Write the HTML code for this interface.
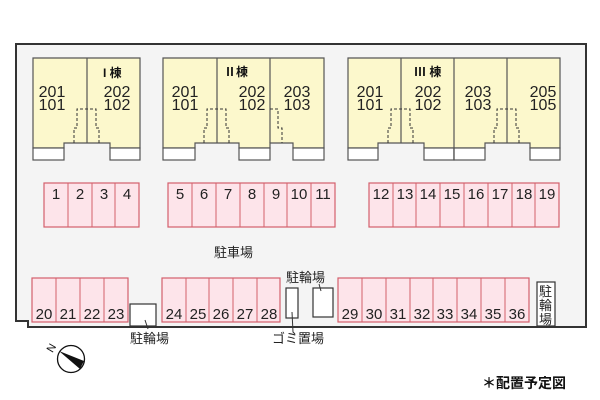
<!DOCTYPE html>
<html><head><meta charset="utf-8"><style>
html,body{margin:0;padding:0;background:#fff;width:600px;height:400px;overflow:hidden}
text{font-family:"Liberation Sans","Noto Sans CJK JP",sans-serif}
</style></head><body>
<svg width="600" height="400" viewBox="0 0 600 400" xmlns="http://www.w3.org/2000/svg">
<path d="M16,44 H586 V327 H28 V321 H16 Z" fill="#f4f4f4" stroke="#333" stroke-width="2"/>
<g fill="#fcf8cc" stroke="#555" stroke-width="1.2">
<path d="M33,58 H140 V148 H110 V143 H64 V148 H33 Z"/>
<path d="M163,58 H324 V148 H293 V143 H270 V148 H239 V143 H195 V148 H163 Z"/>
<path d="M348,58 H560 V148 H530 V143 H485 V148 H454 V148 H424 V143 H378 V148 H348 Z"/>
</g>
<g fill="#fff" stroke="#555" stroke-width="1.2">
<rect x="33" y="148" width="31" height="12"/><rect x="110" y="148" width="30" height="12"/>
<rect x="163" y="148" width="32" height="12"/><rect x="239" y="148" width="31" height="12"/><rect x="293" y="148" width="31" height="12"/>
<rect x="348" y="148" width="30" height="12"/><rect x="424" y="148" width="30" height="12"/><rect x="454" y="148" width="31" height="12"/><rect x="530" y="148" width="30" height="12"/>
</g>
<g stroke="#555" stroke-width="1.2">
<line x1="87" y1="58" x2="87" y2="143"/>
<line x1="217" y1="58" x2="217" y2="143"/><line x1="270" y1="58" x2="270" y2="143"/>
<line x1="401" y1="58" x2="401" y2="143"/><line x1="454" y1="58" x2="454" y2="160"/><line x1="507" y1="58" x2="507" y2="143"/>
</g>
<g fill="none" stroke="#333" stroke-width="1" stroke-dasharray="3,2">
<path d="M74,143 V128 H77 V109 H96 V128 H99 V143"/>
<path d="M204,143 V128 H207 V109 H226 V128 H229 V143"/>
<path d="M270,109 H278 V128 H282 V143"/>
<path d="M388,143 V128 H391 V109 H410 V128 H413 V143"/>
<path d="M494,143 V128 H497 V109 H516 V128 H519 V143"/>
</g>
<g font-size="16" fill="#222" text-anchor="middle">
<text x="52" y="97">201</text><text x="52" y="110">101</text>
<text x="117" y="97">202</text><text x="117" y="110">102</text>
<text x="185" y="97">201</text><text x="185" y="110">101</text>
<text x="252" y="97">202</text><text x="252" y="110">102</text>
<text x="297" y="97">203</text><text x="297" y="110">103</text>
<text x="370" y="97">201</text><text x="370" y="110">101</text>
<text x="428" y="97">202</text><text x="428" y="110">102</text>
<text x="478" y="97">203</text><text x="478" y="110">103</text>
<text x="543" y="97">205</text><text x="543" y="110">105</text>
</g>
<g font-size="12" font-weight="bold" fill="#111">
<text x="103" y="77">I 棟</text><text x="224" y="76">Ⅱ棟</text><text x="414" y="76">Ⅲ 棟</text>
</g>
<g fill="#fde4ea" stroke="#d45f6b" stroke-width="1.2">
<rect x="44" y="183" width="95" height="44"/><rect x="168" y="183" width="167" height="44"/><rect x="369" y="183" width="190" height="44"/>
<rect x="32" y="278" width="96" height="44"/><rect x="162" y="278" width="118" height="44"/><rect x="338" y="278" width="191" height="44"/>
</g>
<g stroke="#d45f6b" stroke-width="1">
<line x1="68" y1="183" x2="68" y2="227"/><line x1="92" y1="183" x2="92" y2="227"/><line x1="115" y1="183" x2="115" y2="227"/>
<line x1="192" y1="183" x2="192" y2="227"/><line x1="216" y1="183" x2="216" y2="227"/><line x1="240" y1="183" x2="240" y2="227"/><line x1="264" y1="183" x2="264" y2="227"/><line x1="287" y1="183" x2="287" y2="227"/><line x1="311" y1="183" x2="311" y2="227"/>
<line x1="393" y1="183" x2="393" y2="227"/><line x1="416" y1="183" x2="416" y2="227"/><line x1="440" y1="183" x2="440" y2="227"/><line x1="464" y1="183" x2="464" y2="227"/><line x1="488" y1="183" x2="488" y2="227"/><line x1="512" y1="183" x2="512" y2="227"/><line x1="535" y1="183" x2="535" y2="227"/>
<line x1="56" y1="278" x2="56" y2="322"/><line x1="80" y1="278" x2="80" y2="322"/><line x1="104" y1="278" x2="104" y2="322"/>
<line x1="186" y1="278" x2="186" y2="322"/><line x1="209" y1="278" x2="209" y2="322"/><line x1="233" y1="278" x2="233" y2="322"/><line x1="257" y1="278" x2="257" y2="322"/>
<line x1="362" y1="278" x2="362" y2="322"/><line x1="386" y1="278" x2="386" y2="322"/><line x1="410" y1="278" x2="410" y2="322"/><line x1="433" y1="278" x2="433" y2="322"/><line x1="457" y1="278" x2="457" y2="322"/><line x1="481" y1="278" x2="481" y2="322"/><line x1="505" y1="278" x2="505" y2="322"/>
</g>
<g font-size="15" fill="#222" text-anchor="middle">
<text x="56" y="199">1</text><text x="80" y="199">2</text><text x="104" y="199">3</text><text x="127" y="199">4</text>
<text x="180" y="199">5</text><text x="204" y="199">6</text><text x="228" y="199">7</text><text x="252" y="199">8</text><text x="276" y="199">9</text><text x="299" y="199">10</text><text x="323" y="199">11</text>
<text x="381" y="199">12</text><text x="405" y="199">13</text><text x="428" y="199">14</text><text x="452" y="199">15</text><text x="476" y="199">16</text><text x="500" y="199">17</text><text x="524" y="199">18</text><text x="547" y="199">19</text>
<text x="44" y="319">20</text><text x="68" y="319">21</text><text x="92" y="319">22</text><text x="116" y="319">23</text>
<text x="174" y="319">24</text><text x="198" y="319">25</text><text x="221" y="319">26</text><text x="245" y="319">27</text><text x="269" y="319">28</text>
<text x="350" y="319">29</text><text x="374" y="319">30</text><text x="398" y="319">31</text><text x="422" y="319">32</text><text x="445" y="319">33</text><text x="469" y="319">34</text><text x="493" y="319">35</text><text x="517" y="319">36</text>
</g>
<g fill="#fff" stroke="#333" stroke-width="1.2">
<rect x="130" y="304" width="26" height="22"/>
<rect x="286" y="288" width="12" height="30"/>
<rect x="313" y="288" width="20" height="29"/>
<rect x="537" y="282" width="18" height="44"/>
</g>
<g stroke="#333" stroke-width="1" fill="none">
<line x1="145" y1="320" x2="148" y2="329"/>
<path d="M292,312 L293,332 L295,334"/>
<line x1="319" y1="284" x2="321" y2="291"/>
</g>
<g font-size="13" fill="#222">
<text x="214" y="257">駐車場</text>
<text x="130" y="343">駐輪場</text>
<text x="272" y="343">ゴミ置場</text>
<text x="286" y="282">駐輪場</text>
<text x="539" y="296">駐</text><text x="539" y="310">輪</text><text x="539" y="324">場</text>
</g>
<text x="482" y="388" font-size="14" font-weight="bold" fill="#111">＊配置予定図</text>
<circle cx="71" cy="359" r="13.5" fill="#fff" stroke="#111" stroke-width="1.3"/>
<path d="M59,351 L84,361 L80,369 Z" fill="#111"/>
<text x="46" y="350" font-size="11" fill="#111" transform="rotate(-60 52 346)">N</text>
</svg>
</body></html>
